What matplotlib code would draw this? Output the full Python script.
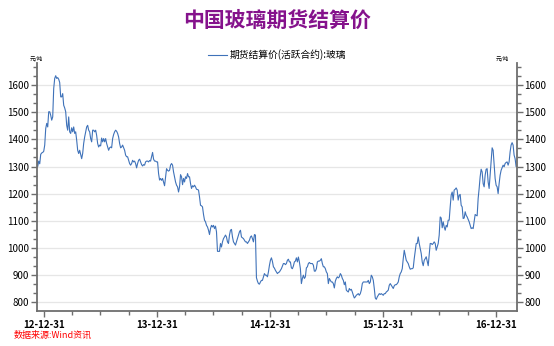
import numpy as np
import pandas as pd
import matplotlib
matplotlib.use("Agg")
import matplotlib.pyplot as plt
import matplotlib.dates as mdates
from matplotlib.ticker import MultipleLocator, AutoMinorLocator

plt.rcParams['font.family'] = ['Noto Sans CJK SC', 'DejaVu Sans']

# daily settlement price (one value per pixel column)
seg_2013 = [1330, 1300, 1320, 1310, 1345, 1350, 1352, 1356, 1379, 1440,
            1459, 1446, 1502, 1502, 1489, 1471, 1483, 1588, 1625, 1635,
            1625, 1628, 1622, 1610, 1557, 1557, 1569, 1526, 1516, 1502,
            1452, 1434, 1483, 1428, 1422, 1443, 1428, 1446, 1422, 1428,
            1397, 1360, 1348, 1360, 1344, 1329, 1348, 1385, 1409, 1428,
            1446, 1452, 1434, 1428, 1403, 1391, 1434, 1434, 1428, 1434,
            1415, 1385, 1372, 1379, 1376, 1405, 1391, 1403, 1391, 1403,
            1385, 1372, 1360, 1369, 1372, 1369, 1403, 1418, 1428, 1434,
            1430, 1422, 1409, 1385, 1369, 1372, 1379, 1369, 1360, 1342,
            1336, 1336, 1323, 1311, 1305]
seg_2014 = [1311, 1323, 1317, 1320, 1311, 1295, 1311, 1323, 1327, 1317,
            1307, 1302, 1307, 1305, 1317, 1320, 1320, 1317, 1322, 1320,
            1336, 1352, 1327, 1320, 1320, 1317, 1317, 1274, 1250, 1256,
            1249, 1256, 1243, 1229, 1262, 1292, 1286, 1283, 1286, 1305,
            1311, 1305, 1280, 1262, 1243, 1231, 1225, 1206, 1225, 1270,
            1262, 1233, 1256, 1243, 1262, 1256, 1274, 1262, 1262, 1237,
            1219, 1229, 1225, 1231, 1225, 1216, 1215, 1213, 1188, 1157,
            1155, 1151, 1123, 1102, 1096, 1083, 1077, 1065, 1049, 1071,
            1083, 1077, 1083, 1071, 1080, 1059, 987, 987, 987, 1016,
            1003, 1022, 1034, 1040, 1047, 1040]
seg_2015 = [1022, 1016, 1047, 1065, 1068, 1040, 1022, 1016, 1010, 1022,
            1034, 1047, 1059, 1065, 1040, 1037, 1034, 1028, 1022, 1022,
            1016, 1022, 1028, 1040, 1044, 1034, 1022, 1049, 1047, 890,
            877, 868, 866, 874, 880, 880, 893, 905, 899, 899,
            893, 911, 935, 954, 963, 950, 930, 925, 917, 911,
            905, 909, 911, 917, 923, 933, 942, 942, 938, 942,
            954, 958, 948, 948, 926, 923, 933, 948, 951, 963,
            948, 966, 948, 923, 868, 887, 899, 887, 893, 926,
            930, 942, 946, 942, 942, 942, 936, 914, 914, 923,
            948, 951, 951, 954, 960]
seg_2016 = [942, 930, 930, 923, 911, 905, 868, 887, 880, 874,
            874, 868, 852, 877, 887, 893, 889, 893, 905, 899,
            887, 880, 864, 874, 844, 840, 837, 850, 844, 847,
            837, 825, 815, 819, 825, 828, 831, 825, 831, 844,
            868, 874, 874, 874, 874, 874, 880, 868, 874, 899,
            893, 880, 850, 815, 810, 819, 825, 831, 828, 831,
            828, 825, 831, 831, 837, 840, 844, 862, 868, 862,
            856, 850, 860, 864, 864, 868, 874, 893, 905, 911,
            923, 960, 991, 973, 954, 948, 942, 930, 921, 923,
            923, 926, 960, 987, 1016]
seg_2017 = [1016, 1040, 1016, 997, 979, 948, 934, 954, 960, 967,
            951, 934, 973, 1016, 1016, 1012, 1016, 1022, 1016, 991,
            1003, 1016, 1047, 1114, 1110, 1074, 1096, 1077, 1065, 1083,
            1077, 1102, 1102, 1151, 1194, 1206, 1176, 1213, 1216, 1221,
            1213, 1176, 1194, 1197, 1157, 1151, 1108, 1110, 1133, 1120,
            1114, 1105, 1096, 1083, 1071, 1074, 1071, 1096, 1123, 1120,
            1118, 1182, 1219, 1262, 1290, 1280, 1237, 1225, 1268, 1290,
            1292, 1243, 1219, 1268, 1317, 1369, 1360, 1305, 1256, 1231,
            1225, 1200, 1237, 1268, 1286, 1295, 1305, 1299, 1311, 1315,
            1317, 1305, 1317, 1354, 1379, 1388, 1379, 1342, 1329, 1300]

prices = np.array(seg_2013 + seg_2014 + seg_2015 + seg_2016 + seg_2017, dtype=float)
dates = pd.date_range("2012-12-06", "2017-03-05", periods=len(prices))

year_ticks = ["2012-12-31", "2013-12-31", "2014-12-31", "2015-12-31", "2016-12-31"]
series_name = "期货结算价(活跃合约):玻璃"
title = "中国玻璃期货结算价"
unit = "元/吨"
source = "数据来源:Wind资讯"

line_color = "#3f72b9"
spine_color = "#6e6e6e"

fig = plt.figure(figsize=(5.54, 3.46), dpi=100)
ax = fig.add_axes([0.0663, 0.102, 0.8664, 0.716])

ax.plot(dates, prices, color=line_color, linewidth=0.8)

ax.set_xlim(pd.Timestamp("2012-12-06"), pd.Timestamp("2017-03-07"))
ax.set_ylim(768, 1682)

# x axis: yearly majors at 12-31, quarterly minors
ax.xaxis.set_major_formatter(mdates.DateFormatter("%y-%m-%d"))
minor_q = [mdates.date2num(pd.Timestamp(d)) for d in
           pd.date_range("2013-01-01", "2017-03-01", freq="QE") if d.month != 12]
ax.set_xticks(minor_q, minor=True)
ax.set_xticks([mdates.date2num(pd.Timestamp(d)) for d in year_ticks])

ax.yaxis.set_major_locator(MultipleLocator(100))
ax.yaxis.set_minor_locator(AutoMinorLocator(3))
ax.grid(axis='y', which='major', color='#e6e6e6', linewidth=0.9)
ax.set_axisbelow(True)

for s in ['left', 'right', 'bottom']:
    ax.spines[s].set_color(spine_color)
    ax.spines[s].set_linewidth(1.3)
ax.spines['top'].set_visible(False)

ax.tick_params(axis='y', which='both', left=True, right=True, labelleft=True, labelright=True,
               direction='out', color=spine_color, labelsize=7, pad=1.5)
ax.tick_params(axis='y', which='major', length=4, width=1)
ax.tick_params(axis='y', which='minor', length=3, width=1)
ax.tick_params(axis='x', which='major', length=4, width=1, color=spine_color, labelsize=7, pad=3)
ax.tick_params(axis='x', which='minor', length=3, width=1, color=spine_color)
for lab in ax.get_xticklabels():
    lab.set_fontweight('bold')

ax.text(0.0, 1.005, unit, transform=ax.transAxes, fontsize=4, ha='center', va='bottom')
ax.text(0.97, 1.005, unit, transform=ax.transAxes, fontsize=4, ha='center', va='bottom')

fig.text(0.5, 0.942, title, ha='center', va='center', fontsize=15, fontweight='bold', color='#85128c')
leg = fig.legend([series_name], loc='center', bbox_to_anchor=(0.5, 0.841), frameon=False,
                 fontsize=7, handlelength=2.0, handletextpad=0.3)
fig.text(0.025, 0.017, source, ha='left', va='bottom', fontsize=6.5, color='#ff0000', style='italic')

fig.savefig("out.png", dpi=100)
